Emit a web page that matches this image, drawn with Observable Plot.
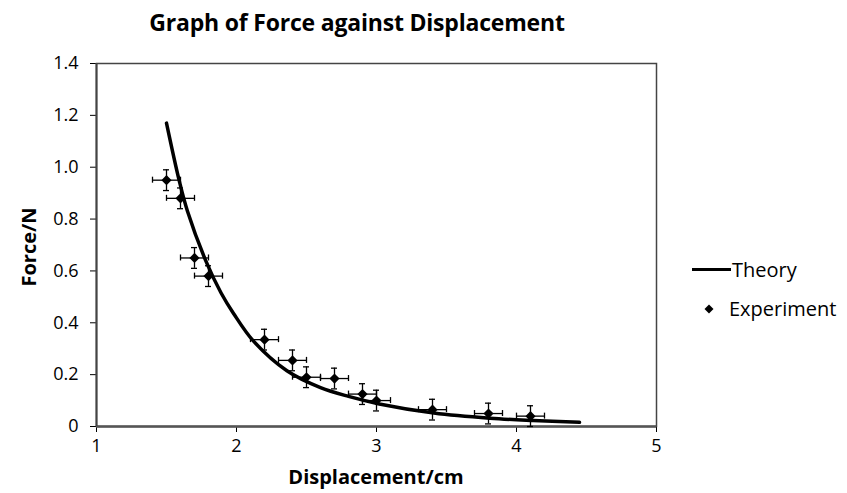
<!DOCTYPE html>
<html>
<head>
<meta charset="utf-8">
<script src="https://cdn.jsdelivr.net/npm/d3@7"></script>
<script src="https://cdn.jsdelivr.net/npm/@observablehq/plot@0.6"></script>
<style>
  html, body { margin: 0; padding: 0; background: #fff; }
  #wrap { position: relative; width: 847px; height: 493px; font-family: "Open Sans", Lato, sans-serif; color: #000; }
  #wrap svg { position: absolute; left: 0; top: 0; }
  .abs { position: absolute; white-space: nowrap; }
  #title { left: 357px; top: 22px; transform: translate(-50%, -50%); font-weight: 700; font-size: 23px; letter-spacing: -0.2px; }
  #xlabel { left: 376px; top: 476px; transform: translate(-50%, -50%); font-weight: 700; font-size: 20px; }
  #ylabel { left: 28px; top: 247px; transform: translate(-50%, -50%) rotate(-90deg); font-weight: 700; font-size: 20px; }
  .leg { font-size: 20px; }
</style>
</head>
<body>
<div id="wrap">
  <div id="title" class="abs">Graph of Force against Displacement</div>
  <div id="xlabel" class="abs">Displacement/cm</div>
  <div id="ylabel" class="abs">Force/N</div>
  <div class="abs" style="left:692px; top:268px; width:39px; height:3px; background:#000;"></div>
  <div class="abs leg" style="left:732px; top:269px; transform:translateY(-50%);">Theory</div>
  <svg class="abs" style="left:704px; top:304px;" width="10" height="10"><path d="M5,0.5L9.5,5L5,9.5L0.5,5Z" fill="#000"/></svg>
  <div class="abs leg" style="left:729px; top:308px; transform:translateY(-50%);">Experiment</div>
</div>
<script>
// Experimental data (displacement in cm, force in N)
const experimentX = [1.5, 1.6, 1.7, 1.8, 2.2, 2.4, 2.5, 2.7, 2.9, 3.0, 3.4, 3.8, 4.1];
const experimentY = [0.95, 0.88, 0.65, 0.58, 0.335, 0.255, 0.19, 0.185, 0.125, 0.10, 0.065, 0.05, 0.04];
const xError = 0.1;
const yError = 0.04;

// Theory curve
const theoryX = [1.5, 1.59, 1.65, 1.78, 1.89, 1.98, 2.12, 2.36, 2.6, 2.8, 3.02, 3.41, 3.81, 4.12, 4.45];
const theoryY = [1.17, 0.95, 0.83, 0.64, 0.515, 0.435, 0.33, 0.215, 0.15, 0.116, 0.087, 0.052, 0.032, 0.023, 0.016];

// Axis ticks
const xTicks = [1, 2, 3, 4, 5];
const yTicks = [0, 0.2, 0.4, 0.6, 0.8, 1.0, 1.2, 1.4];

const experiment = experimentX.map((x, i) => ({x, y: experimentY[i]}));
const theory = theoryX.map((x, i) => ({x, y: theoryY[i]}));

const W = 847, H = 493;
const mL = 96, mR = 191, mT = 63, mB = 67;
// cap half-lengths in data units (pixels -> data)
const capX = 3 / ((W - mL - mR) / 4);
const capY = 3 / ((H - mT - mB) / 1.4);

const chart = Plot.plot({
  width: W,
  height: H,
  marginLeft: mL,
  marginRight: mR,
  marginTop: mT,
  marginBottom: mB,
  style: {fontFamily: "'Open Sans', Lato, sans-serif", fontSize: "17px", color: "#000", background: "transparent"},
  x: {domain: [1, 5], ticks: xTicks, tickSize: 6, tickPadding: 7, label: null, tickFormat: d => String(d)},
  y: {domain: [0, 1.4], ticks: yTicks, tickSize: 6, tickPadding: 12, label: null, tickFormat: d => d === 0 ? "0" : d.toFixed(1)},
  marks: [
    Plot.frame({stroke: "#444", strokeWidth: 1.5}),
    Plot.ruleY([0], {stroke: "#555", strokeWidth: 2.5}),
    Plot.ruleX([1], {stroke: "#444", strokeWidth: 2}),
    // error bars
    Plot.ruleY(experiment, {y: "y", x1: d => d.x - xError, x2: d => d.x + xError, stroke: "#000", strokeWidth: 1.3}),
    Plot.ruleX(experiment, {x: "x", y1: d => d.y - yError, y2: d => d.y + yError, stroke: "#000", strokeWidth: 1.3}),
    Plot.ruleX(experiment, {x: d => d.x - xError, y1: d => d.y - capY, y2: d => d.y + capY, stroke: "#000", strokeWidth: 1.3}),
    Plot.ruleX(experiment, {x: d => d.x + xError, y1: d => d.y - capY, y2: d => d.y + capY, stroke: "#000", strokeWidth: 1.3}),
    Plot.ruleY(experiment, {y: d => d.y - yError, x1: d => d.x - capX, x2: d => d.x + capX, stroke: "#000", strokeWidth: 1.3}),
    Plot.ruleY(experiment, {y: d => d.y + yError, x1: d => d.x - capX, x2: d => d.x + capX, stroke: "#000", strokeWidth: 1.3}),
    // theory line
    Plot.line(theory, {x: "x", y: "y", curve: "catmull-rom", stroke: "#000", strokeWidth: 3.5}),
    // experiment points
    Plot.dot(experiment, {x: "x", y: "y", symbol: "diamond2", r: 4.6, fill: "#000", stroke: "none"})
  ]
});
d3.select(chart).selectAll("g").filter(function () {
  const a = this.getAttribute("aria-label") || "";
  return a.includes("tick label");
}).attr("font-size", null).style("font-size", "18px");
d3.select(chart).selectAll("text").style("font-size", "18px").attr("fill", "#000");
document.getElementById("wrap").prepend(chart);
</script>
</body>
</html>
